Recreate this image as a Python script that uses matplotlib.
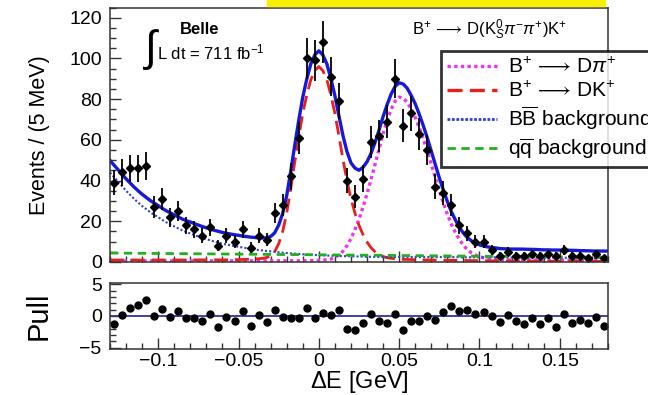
import numpy as np
import matplotlib
matplotlib.use("Agg")
import matplotlib.pyplot as plt
from matplotlib.lines import Line2D
from matplotlib.patches import Rectangle
from matplotlib.ticker import MultipleLocator

plt.rcParams['font.family'] = ['Liberation Sans', 'DejaVu Sans']
plt.rcParams['mathtext.fontset'] = 'custom'
plt.rcParams['mathtext.rm'] = 'Liberation Sans'
plt.rcParams['mathtext.it'] = 'Liberation Sans:italic'
plt.rcParams['mathtext.bf'] = 'Liberation Sans:bold'

# Delta E bins: 5 MeV wide, from -0.13 to 0.18 GeV
bin_width = 0.005
bin_centers = -0.13 + bin_width * (np.arange(62) + 0.5)

events = [39, 44, 46, 46, 47, 27, 31, 22, 25, 18,
          16, 13, 17, 8, 13, 10, 16, 7, 13, 11,
          24, 28, 42, 61, 100, 99, 108, 91, 79, 40,
          32, 41, 59, 62, 69, 90, 67, 73, 63, 55,
          37, 34, 28, 18, 14, 10, 10, 6, 3, 5,
          3, 3, 4, 3, 4, 3, 6, 3, 3, 2,
          4, 2]

pulls = [-1.3, 0.1, 1.2, 1.7, 2.45, 0.0, 1.15, -0.15, 0.8, -0.25,
         -0.35, -0.8, 0.35, -1.7, -0.15, -0.8, 0.8, -1.6, 0.1, -1.0,
         0.9, -0.1, -0.25, -0.35, 1.2, -0.35, 0.45, 0.1, 0.9, -2.0,
         -2.2, -1.05, 0.25, -0.8, -1.15, 0.35, -2.2, -0.8, -0.8, 0.0,
         -0.7, 0.7, 1.55, 0.8, 0.9, 0.25, 0.7, 0.0, -0.9, 0.15,
         -0.8, -1.2, -0.35, -1.2, -0.35, -1.7, 0.35, -1.15, -0.7, -1.15,
         -0.15, -1.65]

curve_x = np.round(-0.13 + 0.0025 * np.arange(125), 5)

dpi_comp = ([0.5] * 20 + [0.55] * 20 + [0.6] * 10 + [0.65, 0.7] +
            [0.8, 0.9, 1.1, 1.5, 2.2, 3.4, 5.3, 8, 11.5, 16,
             21, 27, 33.5, 40.5, 48, 55.5, 63, 69.5, 75, 79,
             81, 80.5, 78.5, 75, 71, 66, 60.5, 54.5, 48, 41.5,
             35, 29, 23.5, 18.5, 14.5, 11, 8.2, 6, 4.5, 3.4,
             2.6, 2.1, 1.7, 1.45, 1.25, 1.1, 1.0, 0.95] +
            [0.95] * 5 + [0.9] * 5 + [0.85] * 5 + [0.8] * 5 + [0.75] * 5)

dk_comp = ([1.0] * 20 + [1.05] * 10 + [1.1, 1.15] +
           [1.2, 1.25, 1.3, 1.35, 1.5, 1.6, 1.8, 2.2, 3.0, 5.0,
            9, 15, 24, 36, 49, 61.5, 73, 82, 89.5, 94,
            96, 94, 89.5, 82, 73, 62, 50.5, 40, 31, 24,
            18, 13.5, 9.8, 7, 5, 3.6, 2.7, 2.1, 1.8, 1.6,
            1.4, 1.3, 1.25, 1.2, 1.15, 1.1, 1.05, 1.0, 1.0, 0.95,
            0.9, 0.9, 0.85, 0.85, 0.8, 0.8, 0.75, 0.75, 0.7, 0.7,
            0.65, 0.65, 0.6, 0.6, 0.6, 0.55, 0.55, 0.55, 0.5, 0.5,
            0.5, 0.5, 0.45, 0.45, 0.45, 0.45, 0.4, 0.4, 0.4, 0.4,
            0.4] + [0.35] * 6 + [0.3] * 6)

bb_comp = ([44, 41.7, 39.5, 37.2, 35, 33, 31, 29.2, 27.5, 26,
            24.5, 23.2, 22, 20.7, 19.5, 18.5, 17.5, 16.5, 15.5, 14.7,
            14, 13.2, 12.5, 11.8, 11.2, 10.6, 10, 9.5, 9, 8.6,
            8.2, 7.8, 7.5, 7.1, 6.8, 6.5, 6.2, 5.9, 5.7, 5.4,
            5.2, 5.0, 4.8, 4.6, 4.4, 4.25, 4.1, 3.95, 3.8, 3.7,
            3.6, 3.5, 3.4, 3.3, 3.2, 3.1, 3.0, 2.95, 2.9, 2.85,
            2.8, 2.75, 2.7, 2.65, 2.6, 2.55, 2.5] +
           [2.45] * 10 + [2.4] * 10 + [2.3] * 10 + [2.2] * 10 + [2.1] * 10 + [2.0] * 8)

qq_comp = [4.40, 4.38, 4.37, 4.35, 4.33, 4.32, 4.30, 4.28, 4.26, 4.25,
           4.23, 4.21, 4.20, 4.18, 4.16, 4.15, 4.13, 4.11, 4.10, 4.08,
           4.06, 4.05, 4.03, 4.01, 3.99, 3.98, 3.96, 3.94, 3.93, 3.91,
           3.89, 3.88, 3.86, 3.84, 3.83, 3.81, 3.79, 3.77, 3.76, 3.74,
           3.72, 3.71, 3.69, 3.67, 3.66, 3.64, 3.62, 3.61, 3.59, 3.57,
           3.55, 3.54, 3.52, 3.50, 3.49, 3.47, 3.45, 3.44, 3.42, 3.40,
           3.39, 3.37, 3.35, 3.34, 3.32, 3.30, 3.28, 3.27, 3.25, 3.23,
           3.22, 3.20, 3.18, 3.17, 3.15, 3.13, 3.12, 3.10, 3.08, 3.06,
           3.05, 3.03, 3.01, 3.00, 2.98, 2.96, 2.95, 2.93, 2.91, 2.90,
           2.88, 2.86, 2.84, 2.83, 2.81, 2.79, 2.78, 2.76, 2.74, 2.73,
           2.71, 2.69, 2.68, 2.66, 2.64, 2.63, 2.61, 2.59, 2.57, 2.56,
           2.54, 2.52, 2.51, 2.49, 2.47, 2.46, 2.44, 2.42, 2.41, 2.39,
           2.37, 2.35, 2.34, 2.32, 2.30]

total = np.array(dpi_comp) + np.array(dk_comp) + np.array(bb_comp) + np.array(qq_comp)

W, H = 648, 395
fig = plt.figure(figsize=(W / 100, H / 100), dpi=100)
ax = fig.add_axes([110 / W, 1 - 262 / H, 498 / W, (262 - 7.5) / H])
axp = fig.add_axes([110 / W, 1 - 349 / H, 498 / W, (349 - 283) / H])

frame_col = '#333333'
for a in (ax, axp):
    for s in a.spines.values():
        s.set_color(frame_col)
        s.set_linewidth(1.1)
    a.set_xlim(-0.13, 0.18)
    a.xaxis.set_major_locator(MultipleLocator(0.05))
    a.xaxis.set_minor_locator(MultipleLocator(0.01))
    a.tick_params(which='both', direction='in', top=False, right=False, colors=frame_col)
    a.tick_params(which='major', length=8, width=1)
    a.tick_params(which='minor', length=4, width=1)

# top panel
ax.plot(curve_x, dpi_comp, color='#ee33ee', lw=2.4, dashes=(1, 1))
ax.plot(curve_x, dk_comp, color='#e8201c', lw=2.0, dashes=(5, 2.5))
ax.plot(curve_x, bb_comp, color='#3340c8', lw=1.5, dashes=(1, 1))
ax.plot(curve_x, qq_comp, color='#22b022', lw=2.0, dashes=(3, 2))
ax.plot(curve_x, total, color='#1818d8', lw=2.4)
ax.errorbar(bin_centers, events, yerr=np.sqrt(events), fmt='D', color='black',
            ms=4.5, elinewidth=1.3, capsize=0)

ax.set_ylim(0, 125)
ax.yaxis.set_major_locator(MultipleLocator(20))
ax.yaxis.set_minor_locator(MultipleLocator(5))
ax.tick_params(axis='x', labelbottom=False)
ax.tick_params(axis='y', labelsize=14, pad=6, labelcolor='black')
ax.set_ylabel('Events / (5 MeV)', fontsize=15.5)
ax.yaxis.set_label_coords(-0.12, 0.5)

# pull panel
axp.axhline(0, color='#3030a0', lw=1.3)
axp.plot(bin_centers, pulls, 'o', color='black', ms=5)
axp.set_ylim(-5.2, 5.2)
axp.yaxis.set_major_locator(MultipleLocator(5))
axp.yaxis.set_minor_locator(MultipleLocator(1))
axp.tick_params(axis='both', labelsize=14, labelcolor='black')
axp.tick_params(axis='x', pad=3)
axp.tick_params(axis='y', pad=6)
axp.set_xticks([-0.1, -0.05, 0, 0.05, 0.1, 0.15])
axp.set_xticklabels(['\u22120.1', '\u22120.05', '0', '0.05', '0.1', '0.15'])
axp.set_yticks([-5, 0, 5])
axp.set_yticklabels(['\u22125', '0', '5'])
axp.set_ylabel('Pull', fontsize=21)
axp.yaxis.set_label_coords(-0.116, 0.5)
axp.set_xlabel(r'$\Delta$E [GeV]', fontsize=17, labelpad=-1)

# annotations
fig.text(180 / W, 1 - 29 / H, 'Belle', fontsize=12, fontweight='bold', ha='left', va='center')
fig.text(151 / W, 1 - 49 / H, r'$\int$', fontsize=31, ha='center', va='center')
fig.text(157 / W, 1 - 52 / H, r'L dt = 711 fb$^{-1}$', fontsize=12, ha='left', va='center')
fig.text(490 / W, 1 - 30 / H,
         r'B$^{+}\,\longrightarrow\,$D(K$^{0}_{S}$$\pi^{-}$$\pi^{+}$)K$^{+}$',
         fontsize=12, ha='center', va='center')

handles = [
    Line2D([], [], color='#ee33ee', lw=2.4, dashes=(1, 1)),
    Line2D([], [], color='#e8201c', lw=2.4, dashes=(4.5, 2.2)),
    Line2D([], [], color='#3340c8', lw=2.0, dashes=(1, 0.6)),
    Line2D([], [], color='#22b022', lw=2.0, dashes=(3, 2)),
]
labels = [r'B$^{+}\,\longrightarrow\,$D$\pi^{+}$', r'B$^{+}\,\longrightarrow\,$DK$^{+}$',
          r'B$\overline{\mathrm{B}}$ background', r'q$\overline{\mathrm{q}}$ background']
leg = fig.legend(handles, labels, loc='upper left', bbox_to_anchor=(441 / W, 1 - 50.5 / H),
                 fontsize=15, frameon=True, fancybox=False, handlelength=2.4,
                 handletextpad=0.5, labelspacing=0.2, borderpad=0.3, borderaxespad=0)
leg.get_frame().set_edgecolor('black')
leg.get_frame().set_linewidth(2)

# yellow highlight strip at the top
fig.patches.append(Rectangle((267 / W, 1 - 5.5 / H), (605 - 267) / W, 5.5 / H,
                             transform=fig.transFigure, color='#f8f000', zorder=5))

fig.savefig('out.png', dpi=100)
